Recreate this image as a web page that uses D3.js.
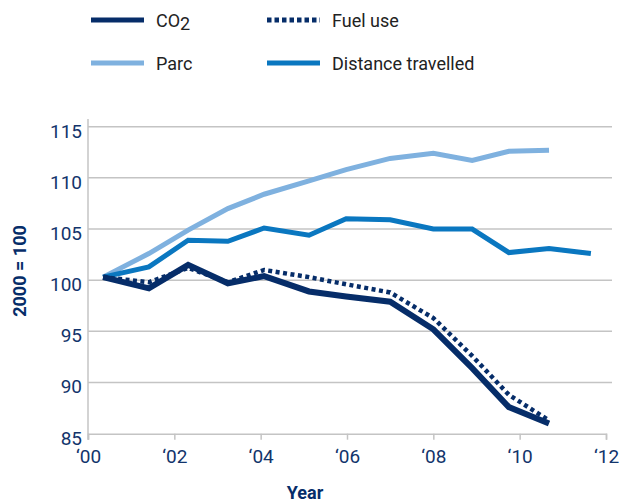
<!DOCTYPE html>
<html>
<head>
<meta charset="utf-8">
<script src="https://d3js.org/d3.v7.min.js"></script>
<style>
  body { margin: 0; background: #fff; }
  text { font-family: Roboto, "Noto Sans", sans-serif; }
</style>
</head>
<body>
<div id="chart"></div>
<script>
// positions of the points along the year axis (years after 2000), as read
var pointYears = [0.35, 1.41, 2.32, 3.24, 4.08, 5.12, 5.98, 7.0, 8.0, 8.9, 9.75, 10.68, 11.65];
var co2 = [100.3, 99.2, 101.5, 99.7, 100.4, 98.9, 98.4, 97.9, 95.2, 91.4, 87.6, 86.0];
var fuelUse = [100.3, 99.8, 101.2, 99.8, 101.0, 100.3, 99.6, 98.8, 96.3, 92.6, 88.8, 86.3];
var parc = [100.3, 102.6, 104.9, 107.0, 108.4, 109.7, 110.8, 111.9, 112.4, 111.7, 112.6, 112.7];
var distance = [100.3, 101.3, 103.9, 103.8, 105.1, 104.4, 106.0, 105.9, 105.0, 105.0, 102.7, 103.1, 102.6];
var yTicks = [85, 90, 95, 100, 105, 110, 115];
var xTicks = [0, 2, 4, 6, 8, 10, 12];
var xTickLabels = ["\u201800", "\u201802", "\u201804", "\u201806", "\u201808", "\u201810", "\u201812"];

var W = 636, H = 502;
var navy = "#062d69", light = "#7fb1df", mid = "#0a77c0", tickColor = "#12346b";

var svg = d3.select("#chart").append("svg")
    .attr("width", W)
    .attr("height", H);

var x = d3.scaleLinear().domain([0, 12]).range([88, 606]);
var y = d3.scaleLinear().domain([85, 115]).range([433.7, 126.7]);

// gridlines
svg.append("g").selectAll("line")
    .data(yTicks.slice(1))
    .enter().append("line")
    .attr("x1", 88).attr("x2", 612)
    .attr("y1", function (d) { return y(d); })
    .attr("y2", function (d) { return y(d); })
    .attr("stroke", "#c4c4c4")
    .attr("stroke-width", 1.5);

// axes
var yAxis = svg.append("g")
    .attr("transform", "translate(88,0)")
    .call(d3.axisLeft(y).tickValues(yTicks).tickSize(0).tickPadding(6));
yAxis.select(".domain").remove();
yAxis.append("line")
    .attr("y1", 119).attr("y2", y(85) + 6)
    .attr("stroke", "#c4c4c4").attr("stroke-width", 1.5);
yAxis.selectAll(".tick text")
    .attr("dy", "0.55em")
    .attr("fill", tickColor)
    .style("font-size", "19px");

var xAxis = svg.append("g")
    .attr("transform", "translate(0," + y(85) + ")")
    .call(d3.axisBottom(x).tickValues(xTicks).tickSize(6).tickPadding(10)
        .tickFormat(function (d, i) { return xTickLabels[i]; }));
xAxis.select(".domain").attr("stroke", "#c4c4c4").attr("stroke-width", 1.5);
xAxis.selectAll(".tick line").attr("stroke", "#c4c4c4").attr("stroke-width", 1.5);
xAxis.selectAll(".tick text")
    .attr("fill", tickColor)
    .style("font-size", "19px");

// series
var line = d3.line()
    .x(function (d, i) { return x(pointYears[i]); })
    .y(function (d) { return y(d); });

var series = [
    { values: parc, color: light, width: 5, dash: null },
    { values: distance, color: mid, width: 5, dash: null },
    { values: fuelUse, color: navy, width: 4.5, dash: "4,3.5" },
    { values: co2, color: navy, width: 6, dash: null }
];
svg.append("g").selectAll("path")
    .data(series)
    .enter().append("path")
    .attr("d", function (d) { return line(d.values); })
    .attr("fill", "none")
    .attr("stroke", function (d) { return d.color; })
    .attr("stroke-width", function (d) { return d.width; })
    .attr("stroke-dasharray", function (d) { return d.dash; })
    .attr("stroke-linejoin", "miter");

// legend
var legend = [
    { label: "CO", sub: "2", color: navy, dash: null, lx: 91, ly: 20 },
    { label: "Fuel use", color: navy, dash: "4.5,3", lx: 267, ly: 20 },
    { label: "Parc", color: light, dash: null, lx: 91, ly: 63 },
    { label: "Distance travelled", color: mid, dash: null, lx: 267, ly: 63 }
];
var items = svg.append("g").selectAll("g")
    .data(legend)
    .enter().append("g")
    .attr("transform", function (d) { return "translate(" + d.lx + "," + d.ly + ")"; });
items.append("line")
    .attr("x1", 0).attr("x2", 53)
    .attr("stroke", function (d) { return d.color; })
    .attr("stroke-width", 5)
    .attr("stroke-dasharray", function (d) { return d.dash; });
var lt = items.append("text")
    .attr("x", 65).attr("y", 7)
    .attr("fill", "#222")
    .style("font-size", "18px")
    .text(function (d) { return d.label; });
lt.filter(function (d) { return d.sub; })
    .append("tspan")
    .attr("dy", 3)
    .text(function (d) { return d.sub; });

// axis titles
svg.append("text")
    .attr("transform", "translate(26,271) rotate(-90)")
    .attr("text-anchor", "middle")
    .attr("fill", navy)
    .style("font-size", "18px")
    .style("font-weight", "bold")
    .text("2000 = 100");
svg.append("text")
    .attr("x", 305).attr("y", 499)
    .attr("text-anchor", "middle")
    .attr("fill", navy)
    .style("font-size", "18px")
    .style("font-weight", "bold")
    .text("Year");
</script>
</body>
</html>
